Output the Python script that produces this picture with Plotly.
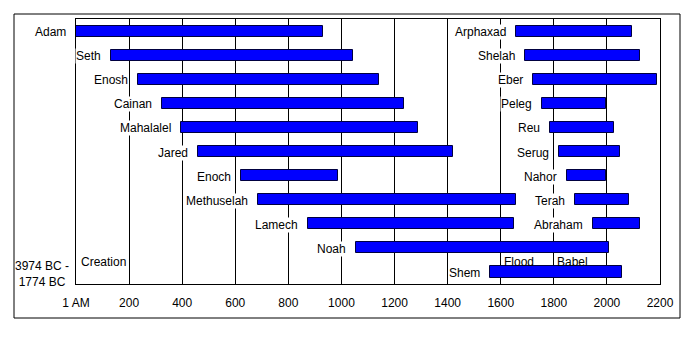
import plotly.graph_objects as go

# Left column: row index, name, birth, death (AM)
left_names = ["Adam", "Seth", "Enosh", "Cainan", "Mahalalel", "Jared", "Enoch",
              "Methuselah", "Lamech", "Noah", "Shem"]
left_rows = [0, 1, 2, 3, 4, 5, 6, 7, 8, 9, 10]
left_start = [0, 130, 235, 325, 395, 460, 622, 687, 874, 1056, 1558]
left_end = [930, 1042, 1140, 1235, 1290, 1422, 987, 1656, 1651, 2006, 2058]

# Right column
right_names = ["Arphaxad", "Shelah", "Eber", "Peleg", "Reu", "Serug", "Nahor",
               "Terah", "Abraham"]
right_rows = [0, 1, 2, 3, 4, 5, 6, 7, 8]
right_start = [1658, 1693, 1723, 1757, 1787, 1819, 1849, 1878, 1948]
right_end = [2096, 2126, 2187, 1996, 2026, 2049, 1997, 2083, 2123]

tick_vals = [0, 200, 400, 600, 800, 1000, 1200, 1400, 1600, 1800, 2000, 2200]
tick_text = ["1 AM", "200", "400", "600", "800", "1000", "1200", "1400",
             "1600", "1800", "2000", "2200"]

events = ["Flood", "Babel"]
event_years = [1600, 1800]

W, H = 699, 339
ML, MR, MT, MB = 76, 39, 19, 55
PW, PH = W - ML - MR, H - MT - MB

FONT = "Liberation Sans, Arial, sans-serif"

fig = go.Figure()
for names, rows, st, en in [(left_names, left_rows, left_start, left_end),
                            (right_names, right_rows, right_start, right_end)]:
    fig.add_trace(go.Bar(
        orientation="h",
        y=rows,
        base=st,
        x=[e - s for s, e in zip(st, en)],
        width=0.46,
        marker=dict(color="#0000FF", line=dict(color="#000040", width=1)),
        hoverinfo="skip",
        showlegend=False,
    ))

annotations = []
for names, rows, st in [(left_names, left_rows, left_start),
                        (right_names, right_rows, right_start)]:
    for n, r, s in zip(names, rows, st):
        annotations.append(dict(
            x=s, y=r, xref="x", yref="y", text=n, showarrow=False,
            xanchor="right", yanchor="middle", xshift=-9, yshift=-1,
            bgcolor="white", borderpad=0,
            font=dict(family=FONT, size=12, color="black"),
        ))

for ev, yr in zip(events, event_years):
    annotations.append(dict(
        x=yr, y=9.57, xref="x", yref="y", text=ev, showarrow=False,
        xanchor="left", yanchor="middle", xshift=1,
        font=dict(family=FONT, size=12, color="black"),
    ))

annotations.append(dict(
    x=0, y=9.57, xref="x", yref="y", text="Creation", showarrow=False,
    xanchor="left", yanchor="middle", xshift=3,
    font=dict(family=FONT, size=12, color="black"),
))
annotations.append(dict(
    x=(42 - ML) / PW, y=10.08, xref="paper", yref="y",
    text="3974 BC -<br>1774 BC", showarrow=False, align="center",
    xanchor="center", yanchor="middle",
    font=dict(family=FONT, size=12, color="black"),
))

fig.update_layout(
    width=W, height=H,
    margin=dict(l=ML, r=MR, t=MT, b=MB, pad=0),
    paper_bgcolor="white", plot_bgcolor="white",
    barmode="overlay",
    bargap=0,
    annotations=annotations,
    font=dict(family=FONT, size=12, color="black"),
    shapes=[dict(
        type="rect", xref="paper", yref="paper",
        x0=(14 - ML) / PW, x1=(680 - ML) / PW,
        y0=(H - MB - 318) / PH, y1=(H - MB - 14) / PH,
        line=dict(color="black", width=1), fillcolor="rgba(0,0,0,0)",
        layer="below",
    )],
    xaxis=dict(
        range=[0, 2200], tickvals=tick_vals, ticktext=tick_text,
        showgrid=True, gridcolor="black", gridwidth=1,
        zeroline=False, showline=True, linecolor="black", linewidth=1,
        mirror=True, ticks="", ticklabelstandoff=8,
        tickfont=dict(family=FONT, size=12, color="black"),
        fixedrange=True,
    ),
    yaxis=dict(
        range=[10.5, -0.5], showticklabels=False, showgrid=False,
        zeroline=False, showline=True, linecolor="black", linewidth=1,
        mirror=True, ticks="", fixedrange=True,
    ),
)

fig.write_html("out.html")
